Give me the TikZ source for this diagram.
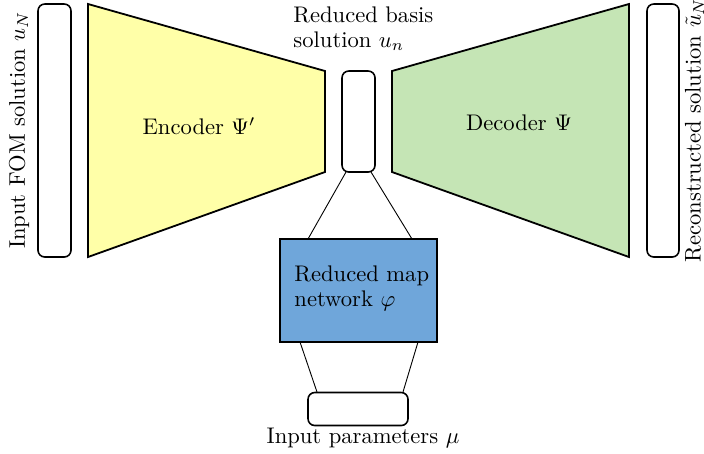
\documentclass[tikz,border=0pt]{standalone}
\begin{document}
\begin{tikzpicture}[x=0.4425pt,y=-0.4425pt,
  box/.style={draw,line width=0.7pt,rounded corners=3pt},
  trap/.style={draw,line width=0.8pt},
  conn/.style={draw,line width=0.4pt},
  lbl/.style={inner sep=0pt,align=left}]
\useasboundingbox (0,0) rectangle (704,453);
\definecolor{encY}{HTML}{FFFFA8}
\definecolor{decG}{HTML}{C5E5B5}
\definecolor{netB}{HTML}{6FA6DA}
% boxes
\draw[box] (38,4) rectangle (71,257);
\draw[trap,fill=encY] (88,4) -- (325,71) -- (325,172) -- (88,257) -- cycle;
\node (enc) at (199,126) {Encoder $\Psi'$};
\draw[box] (342,71) rectangle (375,172);
\coordinate (cbl) at (346,172);
\coordinate (cbr) at (371,172);
\draw[trap,fill=decG] (392,71) -- (629,4) -- (629,257) -- (392,172) -- cycle;
\node (dec) at (519,123) {Decoder $\Psi$};
\draw[box] (647,4) rectangle (679,257);
% net
\node[draw,line width=0.7pt,fill=netB,minimum width=157*0.4425pt,minimum height=103*0.4425pt,inner sep=0pt] (net) at (358.5,290.5) {};
\node[lbl,anchor=north west] (nettxt) at (294,265) {Reduced map\\[-1pt]network $\varphi$};
\node[box,minimum width=100*0.4425pt,minimum height=33*0.4425pt,inner sep=0pt] (par) at (358,409) {};
\node (partxt) at (363,438) {Input parameters $\mu$};
% connectors
\coordinate (ntl) at (308,239);
\coordinate (ntr) at (412,239);
\coordinate (nbl) at (300,342);
\coordinate (nbr) at (418,342);
\coordinate (pl) at (317,392);
\coordinate (pr) at (403,392);
\draw[conn] (cbl) -- (ntl);
\draw[conn] (cbr) -- (ntr);
\draw[conn] (nbl) -- (pl);
\draw[conn] (nbr) -- (pr);
% labels
\node[lbl,anchor=north west] (rb) at (293,6) {Reduced basis\\[-1pt]solution $u_n$};
\node[rotate=90] (inlbl) at (19,130) {Input FOM solution $u_N$};
\node[rotate=90] (outlbl) at (694.5,130) {Reconstructed solution $\tilde u_N$};
\end{tikzpicture}
\end{document}
